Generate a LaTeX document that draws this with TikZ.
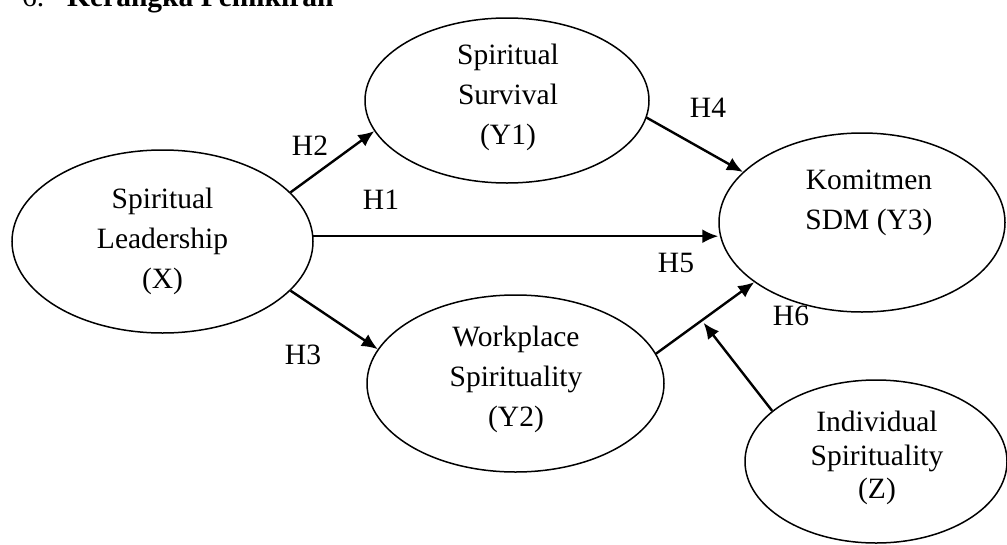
\documentclass[tikz,border=0pt]{standalone}
\usepackage{fontspec}
\setmainfont{Liberation Serif}
\usetikzlibrary{arrows.meta,shapes.geometric,calc}
\begin{document}
\begin{tikzpicture}[x=1pt,y=-1pt,
  var/.style={draw=black,line width=1.5pt,ellipse,inner sep=0pt},
  vtext/.style={inner sep=0pt,align=center,text depth=0pt,anchor=south,
     font=\fontsize{29.5}{40}\selectfont},
  hlab/.style={inner sep=0pt,anchor=base,font=\fontsize{29.5}{35}\selectfont},
  link/.style={draw=black,line width=2.4pt,-{Latex[length=16pt,width=14pt]}}
]
\useasboundingbox (0,0) rectangle (1007,544);
% title (cut off at the top)
\node[inner sep=0pt,anchor=base west,font=\fontsize{29.5}{35}\selectfont] (num) at (22,6) {6.};
\node[inner sep=0pt,anchor=base west,font=\fontsize{29.5}{35}\selectfont\bfseries] (title) at (67,6) {Kerangka Pemikiran};
% ellipses
\node[var,minimum width=301pt,minimum height=183pt] (X)  at (162.5,241.5) {};
\node[var,minimum width=284pt,minimum height=165pt] (Y1) at (507,100.5) {};
\node[var,minimum width=297pt,minimum height=177pt] (Y2) at (515.5,383.5) {};
\node[var,minimum width=286pt,minimum height=179pt] (Y3) at (862,222.5) {};
\node[var,minimum width=262pt,minimum height=163pt] (Z)  at (876,461.5) {};
% texts
\node[vtext] (Xt)  at (162.5,289) {Spiritual\\Leadership\\(X)};
\node[vtext] (Y1t) at (508,145) {Spiritual\\Survival\\(Y1)};
\node[vtext] (Y2t) at (516,427) {Workplace\\Spirituality\\(Y2)};
\node[vtext] (Y3t) at (869,230) {Komitmen\\SDM (Y3)};
\node[vtext,font=\fontsize{29.5}{33.5}\selectfont] (Zt) at (877,499) {Individual\\Spirituality\\(Z)};
% connectors
\draw[link] (X.21) -- (Y1.-167);
\draw[link] (X.2) -- (X.2 -| Y3.west);
\draw[link] (X.-21) -- (Y2.166);
\draw[link] (Y1.-7) -- (Y3.157);
\draw[link] (Y2.12) -- (Y3.-151);
\coordinate (m) at ($(Y2.12)!0.465!(Y3.-151)$);
\draw[link,shorten >=3pt] (Z.154) -- (m);
% hypothesis labels
\node[hlab] (H1) at (381,209) {H1};
\node[hlab] (H2) at (310,155) {H2};
\node[hlab] (H3) at (303,364) {H3};
\node[hlab] (H4) at (708,117) {H4};
\node[hlab] (H5) at (676,272) {H5};
\node[hlab] (H6) at (791,325) {H6};
\end{tikzpicture}
\end{document}
